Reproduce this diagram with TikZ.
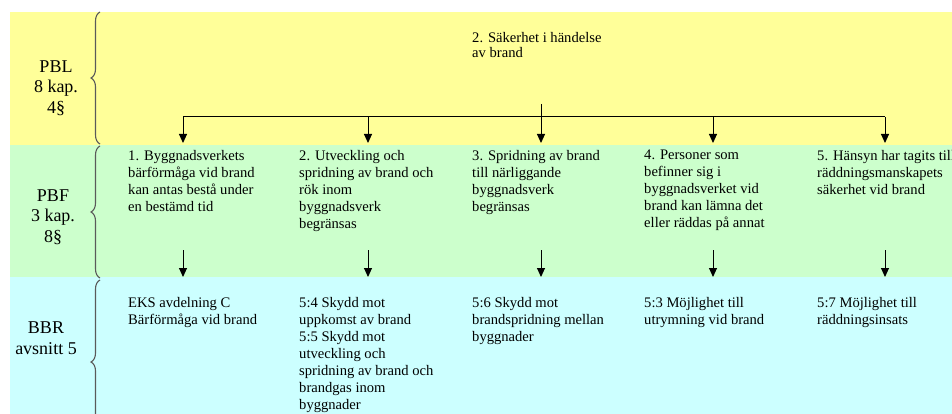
\documentclass[tikz,border=0pt]{standalone}
\usepackage{fontspec}
\setmainfont{Liberation Serif}
\usetikzlibrary{arrows.meta,decorations.pathreplacing}
\definecolor{gul}{HTML}{FFFF99}
\definecolor{gron}{HTML}{CCFFCC}
\definecolor{ljusbla}{HTML}{CCFFFF}
\definecolor{klammer}{HTML}{5A5A5A}
\tikzset{
  txt/.style={anchor=north west, inner sep=0pt, align=left, font=\fontsize{14.6}{17}\selectfont},
  lbl/.style={align=center, inner sep=0pt, font=\fontsize{18}{20.5}\selectfont},
  pil/.style={-{Triangle[width=8pt,length=9pt]}, line width=1pt},
  klam/.style={decorate, decoration={brace,amplitude=9pt}, draw=klammer, line width=1.1pt}
}
\begin{document}
\begin{tikzpicture}[x=1pt,y=-1pt]
			\useasboundingbox (0,0) rectangle (952,414);
			\clip (0,0) rectangle (952,414);
			% les bandes
			\fill[gul] (10,12) rectangle (952,145);
			\fill[gron] (10,145) rectangle (952,277);
			\fill[ljusbla] (10,277) rectangle (952,414);
			% les accolades
			\draw[klam] (100,144) -- (100,12);
			\draw[klam] (100,278) -- (100,146);
			\draw[klam] (100,444) -- (100,280);
			% les titres
			\node[lbl] (pbl) at (56,88) {PBL\\8 kap.\\4§};
			\node[lbl] (pbf) at (53,217) {PBF\\3 kap.\\8§};
			\node[lbl] (bbr) at (46,338) {BBR\\avsnitt 5};
			% le but
			\node[txt, font=\fontsize{14.6}{15}\selectfont] (mal) at (472,32) {2. Säkerhet i händelse\\av brand};
			% PBF
			\node[txt] (pbf1) at (128,150) {1. Byggnadsverkets\\bärförmåga vid brand\\kan antas bestå under\\en bestämd tid};
			\node[txt] (pbf2) at (299,150) {2. Utveckling och\\spridning av brand och\\rök inom\\byggnadsverk\\begränsas};
			\node[txt] (pbf3) at (472,150) {3. Spridning av brand\\till närliggande\\byggnadsverk\\begränsas};
			\node[txt] (pbf4) at (644,150) {4. Personer som\\befinner sig i\\byggnadsverket vid\\brand kan lämna det\\eller räddas på annat};
			\node[txt] (pbf5) at (817,150) {5. Hänsyn har tagits till\\räddningsmanskapets\\säkerhet vid brand};
			% BBR
			\node[txt] (bbr1) at (128,297) {EKS avdelning C\\Bärförmåga vid brand};
			\node[txt] (bbr2) at (299,297) {5:4 Skydd mot\\uppkomst av brand\\5:5 Skydd mot\\utveckling och\\spridning av brand och\\brandgas inom\\byggnader};
			\node[txt] (bbr3) at (472,297) {5:6 Skydd mot\\brandspridning mellan\\byggnader};
			\node[txt] (bbr4) at (644,297) {5:3 Möjlighet till\\utrymning vid brand};
			\node[txt] (bbr5) at (817,297) {5:7 Möjlighet till\\räddningsinsats};
			% les flèches du haut
			\coordinate (m) at (541,104);
			\coordinate (b1) at (183,117);
			\coordinate (b2) at (368,117);
			\coordinate (b4) at (713,117);
			\coordinate (b5) at (885,117);
			\coordinate (g1) at (183,143);
			\coordinate (g2) at (368,143);
			\coordinate (g3) at (541,143);
			\coordinate (g4) at (713,143);
			\coordinate (g5) at (885,143);
			\draw[line width=1pt] (b1) -- (b5);
			\draw[pil] (m) -- (g3);
			\draw[pil] (b1) -- (g1);
			\draw[pil] (b2) -- (g2);
			\draw[pil] (b4) -- (g4);
			\draw[pil] (b5) -- (g5);
			% les flèches du bas
			\coordinate (u1) at (183,250);
			\coordinate (u2) at (368,250);
			\coordinate (u3) at (541,250);
			\coordinate (u4) at (713,250);
			\coordinate (u5) at (885,250);
			\coordinate (n1) at (183,277);
			\coordinate (n2) at (368,277);
			\coordinate (n3) at (541,277);
			\coordinate (n4) at (713,277);
			\coordinate (n5) at (885,277);
			\draw[pil] (u1) -- (n1);
			\draw[pil] (u2) -- (n2);
			\draw[pil] (u3) -- (n3);
			\draw[pil] (u4) -- (n4);
			\draw[pil] (u5) -- (n5);
		\end{tikzpicture}
\end{document}
